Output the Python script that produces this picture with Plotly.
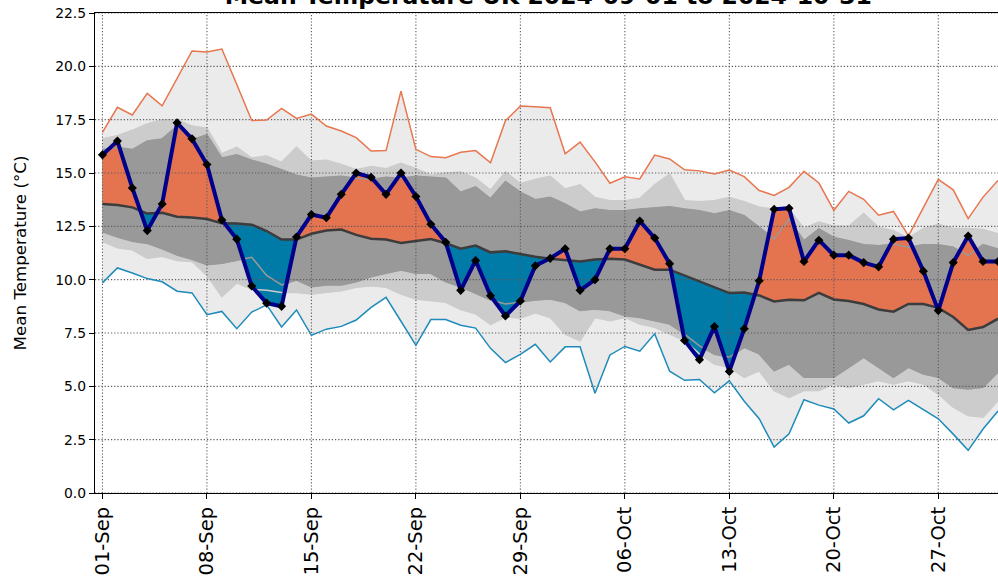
import numpy as np
import pandas as pd
import plotly.graph_objects as go

# ---------------- data ----------------
start_date = "2024-09-01"
end_date = "2024-10-31"

actual_temp = [15.85, 16.5, 14.3, 12.3, 13.55, 17.35, 16.6, 15.4, 12.8, 11.9,
               9.7, 8.9, 8.75, 12.0, 13.05, 12.9, 14.0, 15.0, 14.8, 14.0,
               15.0, 13.9, 12.6, 11.75, 9.5, 10.9, 9.25, 8.3, 9.0, 10.65,
               11.0, 11.45, 9.5, 10.0, 11.45, 11.45, 12.75, 11.95, 10.75, 7.15,
               6.25, 7.8, 5.7, 7.7, 9.95, 13.3, 13.35, 10.85, 11.85, 11.15,
               11.15, 10.8, 10.6, 11.9, 11.95, 10.4, 8.55, 10.8, 12.05, 10.85,
               10.85]

mean_temp = [13.55, 13.5, 13.39, 13.1, 13.14, 12.95, 12.91, 12.84, 12.64, 12.63,
             12.58, 12.28, 11.88, 11.88, 12.15, 12.3, 12.35, 12.1, 11.92, 11.88,
             11.72, 11.8, 11.9, 11.71, 11.45, 11.6, 11.28, 11.33, 11.2, 11.07,
             10.98, 10.93, 10.85, 10.94, 10.98, 10.94, 10.69, 10.47, 10.47, 10.19,
             9.93, 9.65, 9.37, 9.4, 9.26, 8.98, 9.06, 9.03, 9.38, 9.07,
             9.0, 8.86, 8.6, 8.5, 8.86, 8.86, 8.68, 8.25, 7.64, 7.78,
             8.17]

record_max = [16.9, 18.08, 17.72, 18.73, 18.15, 19.44, 20.72, 20.67, 20.81, 19.15,
              17.46, 17.48, 18.03, 17.56, 17.76, 17.2, 16.97, 16.66, 16.03, 16.05,
              18.84, 16.11, 15.77, 15.72, 15.97, 16.05, 15.48, 17.45, 18.14, 18.11,
              18.06, 15.9, 16.45, 15.52, 14.52, 14.82, 14.72, 15.84, 15.66, 15.15,
              15.1, 14.95, 15.14, 14.83, 14.18, 13.95, 14.33, 15.08, 14.53, 13.25,
              14.14, 13.77, 13.02, 13.2, 12.05, 13.38, 14.7, 14.21, 12.86, 13.87,
              14.65]

record_min = [9.85, 10.55, 10.31, 10.05, 9.9, 9.46, 9.38, 8.36, 8.51, 7.7,
              8.48, 8.82, 7.78, 8.58, 7.39, 7.68, 7.81, 8.11, 8.7, 9.17,
              8.05, 6.92, 8.13, 8.13, 7.86, 7.73, 6.78, 6.11, 6.5, 6.97,
              6.14, 6.85, 6.86, 4.68, 6.47, 6.87, 6.65, 7.46, 5.71, 5.28,
              5.32, 4.7, 5.26, 4.3, 3.48, 2.15, 2.78, 4.37, 4.12, 3.94,
              3.28, 3.62, 4.42, 3.9, 4.34, 3.93, 3.48, 2.76, 2.0, 3.0,
              3.84]

# outer grey band (light-medium grey)
band_outer_high = [16.6, 16.75, 17.0, 17.3, 17.5, 17.5, 17.2, 17.1, 15.9, 16.2,
                   15.7, 15.8, 15.5, 16.2, 15.55, 15.6, 15.4, 15.15, 15.3, 15.2,
                   15.45, 15.2, 14.9, 15.0, 15.05, 14.75, 14.2, 15.05, 14.5, 14.7,
                   14.85, 14.25, 14.45, 13.85, 13.7, 13.7, 13.8, 14.45, 14.95, 13.7,
                   13.65, 13.7, 13.85, 13.65, 13.4, 13.3, 13.3, 12.4, 12.7, 12.5,
                   12.5, 13.1, 12.45, 12.3, 11.95, 12.4, 12.6, 12.4, 12.4, 12.35,
                   12.15]
band_outer_low = [11.8, 11.5, 11.4, 11.0, 11.1, 10.9, 10.85, 10.2, 9.2, 9.85,
                  9.55, 9.5, 9.4, 9.4, 9.33, 9.4, 9.48, 9.64, 9.72, 9.64,
                  9.33, 9.09, 9.02, 8.94, 8.6, 8.4, 7.9, 8.25, 8.2, 8.45,
                  8.23, 7.45, 7.14, 8.23, 8.08, 8.23, 7.92, 7.77, 7.45, 7.14,
                  6.52, 6.05, 5.89, 5.42, 5.73, 4.8, 4.48, 4.8, 4.8, 5.11,
                  4.95, 5.11, 5.27, 5.11, 5.27, 5.11, 4.64, 4.02, 3.63, 3.55,
                  4.33]
# inner grey band (dark grey)
band_inner_high = [16.1, 16.2, 16.1, 16.5, 16.6, 17.2, 16.55, 16.8, 15.7, 15.85,
                   15.6, 15.4, 15.15, 14.9, 14.75, 14.8, 14.85, 14.75, 14.7, 14.8,
                   14.75, 14.85, 14.8, 14.75, 14.1, 14.35, 13.8, 14.6, 14.1, 13.75,
                   13.86, 13.55, 13.16, 13.31, 13.23, 13.23, 13.31, 13.36, 13.42, 13.31,
                   13.23, 13.08, 13.23, 13.0, 12.45, 11.91, 12.84, 11.83, 12.38, 11.98,
                   11.83, 11.64, 11.59, 11.67, 11.52, 11.64, 11.64, 11.52, 11.13, 11.64,
                   11.44]
band_inner_low = [12.25, 12.0, 11.8, 11.7, 11.45, 11.15, 10.95, 10.7, 10.77, 10.9,
                  11.05, 10.2, 9.75, 9.98, 9.67, 9.75, 9.75, 9.9, 10.14, 10.3,
                  10.45, 10.3, 10.3, 9.9, 9.67, 9.36, 9.05, 8.86, 8.94, 9.05,
                  9.09, 8.94, 8.55, 8.63, 8.55, 8.31, 8.23, 8.08, 7.92, 7.45,
                  6.9, 6.5, 6.36, 6.83, 6.52, 5.73, 6.05, 5.42, 5.42, 5.42,
                  5.89, 6.36, 5.89, 5.42, 5.89, 5.58, 5.42, 4.95, 4.88, 4.95,
                  5.66]

x_tick_labels = ["01-Sep", "08-Sep", "15-Sep", "22-Sep", "29-Sep",
                 "06-Oct", "13-Oct", "20-Oct", "27-Oct"]
y_tick_values = [0.0, 2.5, 5.0, 7.5, 10.0, 12.5, 15.0, 17.5, 20.0, 22.5]

title_text = "Mean Temperature UK 2024-09-01 to 2024-10-31"
y_title = "Mean Temperature (°C)"

# ---------------- styling ----------------
C_LIGHT = "#EBEBEB"
C_MID = "#CCCCCC"
C_DARK = "#999999"
C_WARM = "#E47350"
C_COLD = "#007BA7"
C_MAXLINE = "#E8764F"
C_MINLINE = "#1E8BBA"
C_MEAN = "#3C3C3C"
C_ACTUAL = "#00008B"
FONT = "DejaVu Sans"

dates = pd.date_range(start_date, end_date, freq="D")
day0 = dates[0]


def to_dt(days):
    return day0 + pd.to_timedelta(np.asarray(days, dtype=float), unit="D")


def band_trace(lo, hi, color):
    x = list(dates) + list(dates[::-1])
    y = list(hi) + list(lo[::-1])
    return go.Scatter(x=x, y=y, fill="toself", fillcolor=color, mode="lines",
                      line=dict(width=0.6, color=color), hoverinfo="skip",
                      showlegend=False)


fig = go.Figure()
fig.add_trace(band_trace(record_min, record_max, C_LIGHT))
fig.add_trace(band_trace(band_outer_low, band_outer_high, C_MID))
fig.add_trace(band_trace(band_inner_low, band_inner_high, C_DARK))

# anomaly fills with exact crossing points
a = np.asarray(actual_temp, float)
m = np.asarray(mean_temp, float)
t = np.arange(len(a), dtype=float)
xs, As, Ms = [t[0]], [a[0]], [m[0]]
for i in range(len(t) - 1):
    d0 = a[i] - m[i]
    d1 = a[i + 1] - m[i + 1]
    if d0 * d1 < 0:
        f = d0 / (d0 - d1)
        xs.append(t[i] + f)
        As.append(a[i] + f * (a[i + 1] - a[i]))
        Ms.append(m[i] + f * (m[i + 1] - m[i]))
    xs.append(t[i + 1])
    As.append(a[i + 1])
    Ms.append(m[i + 1])
As = np.array(As)
Ms = np.array(Ms)
xdt = list(to_dt(xs))
hi_part = np.maximum(As, Ms)
lo_part = np.minimum(As, Ms)
for part, col in ((hi_part, C_WARM), (lo_part, C_COLD)):
    fig.add_trace(go.Scatter(x=xdt + xdt[::-1], y=list(part) + list(Ms[::-1]),
                             fill="toself", fillcolor=col, mode="lines",
                             line=dict(width=0.5, color=col), hoverinfo="skip",
                             showlegend=False))

# band edges (visible where they pass over the anomaly fills)
for series, col in ((band_outer_high, C_MID), (band_outer_low, C_MID),
                    (band_inner_high, C_DARK), (band_inner_low, C_DARK)):
    fig.add_trace(go.Scatter(x=dates, y=series, mode="lines",
                             line=dict(color=col, width=1.5), hoverinfo="skip",
                             showlegend=False))

# dotted grid drawn over the fills
x_lo = to_dt([-0.5])[0]
x_hi = to_dt([60.0])[0]
tick_dates = list(dates[::7])
grid_style = dict(color="#5A5A5A", width=1.1, dash="1.2px,2px")
for td in tick_dates:
    fig.add_trace(go.Scatter(x=[td, td], y=[y_tick_values[0], y_tick_values[-1]],
                             mode="lines", line=grid_style, hoverinfo="skip",
                             showlegend=False))
for yv in y_tick_values:
    fig.add_trace(go.Scatter(x=[x_lo, x_hi], y=[yv, yv], mode="lines",
                             line=grid_style, hoverinfo="skip", showlegend=False))

# record lines, mean, actual
fig.add_trace(go.Scatter(x=dates, y=record_max, mode="lines",
                         line=dict(color=C_MAXLINE, width=1.5), hoverinfo="skip",
                         showlegend=False))
fig.add_trace(go.Scatter(x=dates, y=record_min, mode="lines",
                         line=dict(color=C_MINLINE, width=1.5), hoverinfo="skip",
                         showlegend=False))
fig.add_trace(go.Scatter(x=dates, y=mean_temp, mode="lines",
                         line=dict(color=C_MEAN, width=2.5), hoverinfo="skip",
                         showlegend=False))
fig.add_trace(go.Scatter(x=dates, y=actual_temp, mode="lines+markers",
                         line=dict(color=C_ACTUAL, width=4),
                         marker=dict(symbol="diamond", size=7, color="black"),
                         hoverinfo="skip", showlegend=False))

fig.update_layout(
    width=998, height=585,
    margin=dict(l=95, r=0, t=13, b=92, autoexpand=False),
    plot_bgcolor="white", paper_bgcolor="white",
    font=dict(family=FONT, size=13.9, color="black"),
    title=dict(text="<b>" + title_text + "</b>", font=dict(size=23.5, family=FONT),
               x=0.502, xanchor="center", xref="paper",
               y=1, yref="paper", yanchor="bottom", pad=dict(b=9)),
    showlegend=False,
)
fig.update_xaxes(
    type="date", range=[x_lo, x_hi], automargin=False,
    tickvals=tick_dates, ticktext=x_tick_labels, tickangle=-90,
    ticks="outside", ticklen=5, tickwidth=1, tickcolor="black",
    showline=True, linecolor="black", linewidth=1.2, mirror=True,
    showgrid=False, zeroline=False,
    tickfont=dict(size=19.5, family=FONT),
)
fig.update_yaxes(
    range=[y_tick_values[0], y_tick_values[-1]], automargin=False,
    tickvals=y_tick_values, ticktext=[f"{v:.1f}" for v in y_tick_values],
    ticks="outside", ticklen=5, tickwidth=1, tickcolor="black",
    showline=True, linecolor="black", linewidth=1.2, mirror=False,
    showgrid=False, zeroline=False,
    title=dict(text=y_title, standoff=24, font=dict(size=16.7, family=FONT)),
    tickfont=dict(size=13.9, family=FONT),
)

fig.write_html("out.html", config={"displayModeBar": False},
               post_script="document.body.style.margin='0';")
